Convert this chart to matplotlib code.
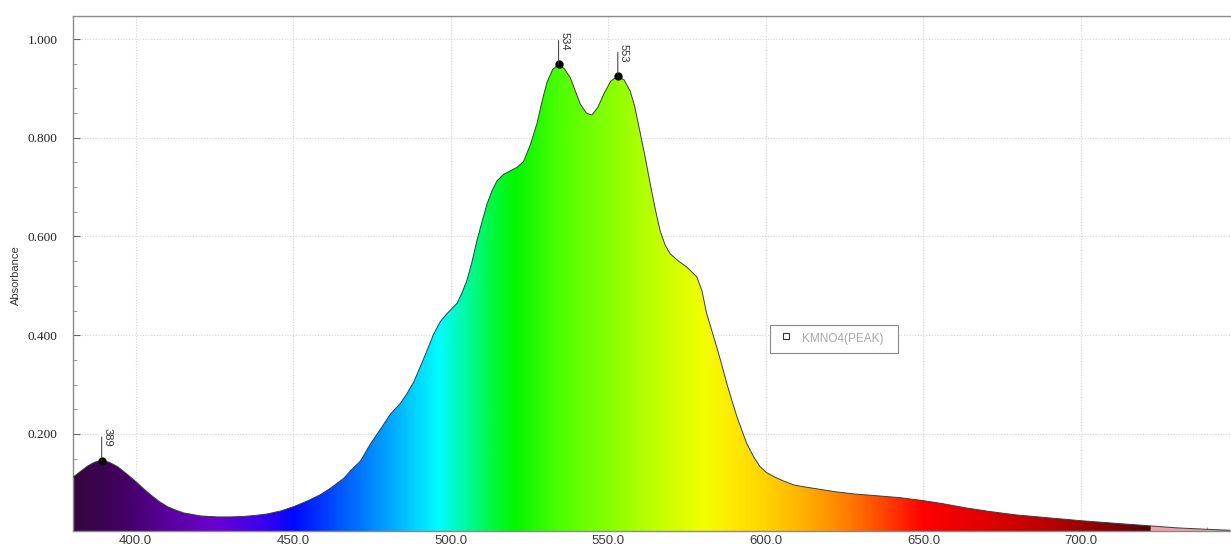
import numpy as np
import matplotlib
matplotlib.use("Agg")
import matplotlib.pyplot as plt
from matplotlib.colors import LinearSegmentedColormap
from matplotlib.patches import Rectangle
from matplotlib.lines import Line2D

# ---------------- data ----------------
wavelength = [380.0, 384.7, 387.0, 389.2, 391.5, 394.2, 396.8, 399.4, 402.0, 404.7,
              407.3, 410.0, 412.6, 415.3, 420.6, 425.9, 430.0, 434.3, 438.0, 441.7,
              446.0, 450.2, 454.4, 458.6, 462.0, 466.0, 468.1, 471.3, 474.5, 477.7,
              480.8, 484.0, 486.1, 488.2, 490.3, 492.5, 494.6, 496.7, 498.8, 500.5,
              502.0, 503.5, 505.1, 506.7, 508.3, 509.9, 511.5, 513.1, 514.7, 516.8,
              518.9, 521.0, 523.1, 525.2, 527.3, 529.0, 530.5, 532.3, 534.2, 536.0,
              537.9, 539.5, 541.1, 543.0, 544.8, 546.7, 548.5, 550.8, 553.0, 555.0,
              556.9, 558.3, 560.1, 561.7, 563.3, 564.9, 566.4, 568.0, 569.6, 572.3,
              574.9, 578.1, 579.7, 581.2, 582.8, 584.4, 586.0, 587.6, 589.2, 590.8,
              592.4, 593.9, 596.0, 598.1, 600.2, 602.4, 605.5, 608.7, 612.0, 616.1,
              622.0, 628.8, 635.0, 642.5, 649.9, 656.0, 663.7, 671.0, 679.5, 690.0,
              700.7, 711.0, 721.8, 730.0, 739.8, 747.2]
absorbance = [0.112, 0.135, 0.143, 0.146, 0.143, 0.134, 0.121, 0.107, 0.092, 0.077,
              0.064, 0.053, 0.046, 0.040, 0.034, 0.032, 0.032, 0.033, 0.035, 0.038,
              0.044, 0.053, 0.064, 0.077, 0.091, 0.110, 0.125, 0.145, 0.180, 0.210,
              0.240, 0.262, 0.282, 0.305, 0.336, 0.370, 0.403, 0.428, 0.444, 0.455,
              0.465, 0.485, 0.511, 0.548, 0.592, 0.630, 0.666, 0.693, 0.713, 0.726,
              0.733, 0.740, 0.752, 0.785, 0.828, 0.875, 0.912, 0.938, 0.949, 0.940,
              0.922, 0.895, 0.868, 0.850, 0.846, 0.862, 0.888, 0.915, 0.925, 0.917,
              0.895, 0.865, 0.810, 0.760, 0.706, 0.655, 0.612, 0.583, 0.565, 0.550,
              0.538, 0.518, 0.490, 0.444, 0.410, 0.376, 0.340, 0.302, 0.268, 0.235,
              0.207, 0.181, 0.155, 0.134, 0.122, 0.114, 0.105, 0.097, 0.093, 0.089,
              0.083, 0.078, 0.075, 0.071, 0.065, 0.059, 0.050, 0.043, 0.036, 0.030,
              0.024, 0.019, 0.014, 0.010, 0.007, 0.005]

peak_x = [389.2, 534.2, 553.0]
peak_y = [0.146, 0.949, 0.925]
peak_labels = ["389", "534", "553"]

x_ticks = [400, 450, 500, 550, 600, 650, 700]
x_ticklabels = ["400.0", "450.0", "500.0", "550.0", "600.0", "650.0", "700.0"]
y_ticks = [0.2, 0.4, 0.6, 0.8, 1.0]
y_ticklabels = ["0.200", "0.400", "0.600", "0.800", "1.000"]
legend_label = "KMNO4(PEAK)"

# ---------------- figure ----------------
W, H = 1231, 547
fig = plt.figure(figsize=(W / 100, H / 100), dpi=100)
ax = fig.add_axes([72.7 / W, (H - 531) / H, (W - 72.7) / W, 515 / H])

xmin, xmax = 380.0, 747.6
ymin, ymax = 0.0035, 1.0466
ax.set_xlim(xmin, xmax)
ax.set_ylim(ymin, ymax)

# spectral gradient fill
stops = [
    (380, "#35073f"), (395, "#42005f"), (410, "#5a009e"), (425, "#6c00d0"),
    (440, "#3a00f0"), (450, "#0008ff"), (465, "#0058ff"), (480, "#00a4ff"),
    (490, "#00dcff"), (496, "#00fcff"), (505, "#00f8a0"), (513, "#00f840"),
    (520, "#00f800"), (535, "#50ff00"), (550, "#86ff00"), (565, "#c0ff00"),
    (580, "#f2ff00"), (590, "#ffe800"), (600, "#ffd200"), (612, "#ffb000"),
    (625, "#ff8000"), (638, "#ff4000"), (650, "#ff0000"), (670, "#e00000"),
    (690, "#b80000"), (705, "#900000"), (715, "#700008"), (722, "#50000a"),
    (722.4, "#f2a0a4"), (740, "#eea4aa"), (747.6, "#b8a4aa"),
]
pos = [(s[0] - xmin) / (xmax - xmin) for s in stops]
cmap = LinearSegmentedColormap.from_list("spec", list(zip(pos, [s[1] for s in stops])), N=1024)
grad = np.linspace(0, 1, 1200)[None, :]
im = ax.imshow(grad, cmap=cmap, extent=[xmin, xmax, ymin, ymax], aspect="auto",
               origin="lower", zorder=2, interpolation="bilinear")
poly = ax.fill_between(wavelength, absorbance, ymin, facecolor="none", edgecolor="none", zorder=1)
clip = poly.get_paths()[0]
im.set_clip_path(clip, transform=ax.transData)
ax.plot(wavelength, absorbance, color="#3c3c3c", lw=0.7, zorder=3)

# grid
ax.set_xticks(x_ticks)
ax.set_xticklabels(x_ticklabels)
ax.set_yticks(y_ticks)
ax.set_yticklabels(y_ticklabels)
ax.set_xticks(np.arange(390, 747, 10), minor=True)
ax.set_yticks(np.arange(0.05, 1.04, 0.05), minor=True)
ax.grid(True, which="major", color="#d4d4d4", linestyle=(0, (1, 1.5)), lw=0.8, zorder=0)
ax.set_axisbelow(True)

for lbl in ax.get_xticklabels():
    lbl.set_fontfamily("Liberation Sans")
    lbl.set_fontsize(9.5)
    lbl.set_color("#3a3a3a")
for lbl in ax.get_yticklabels():
    lbl.set_fontfamily("Liberation Serif")
    lbl.set_fontsize(9.5)
    lbl.set_color("#202020")

ax.tick_params(axis="x", which="major", direction="in", length=5, width=0.8, color="#666666", pad=3, top=False)
ax.tick_params(axis="x", which="minor", direction="in", length=3, width=0.6, color="#888888", top=False)
ax.tick_params(axis="y", which="major", direction="in", length=5, width=0.8, color="#666666", pad=11)
ax.tick_params(axis="y", which="minor", direction="in", length=3, width=0.6, color="#888888")

for side in ["left", "bottom", "top"]:
    ax.spines[side].set_color("#8a8a8a")
    ax.spines[side].set_linewidth(1.0)
ax.spines["right"].set_visible(False)

ax.set_ylabel("Absorbance", fontfamily="Liberation Sans", fontsize=8, color="#333333",
              va="center")
ax.yaxis.set_label_coords((16 - 72.7) / (W - 72.7), (531 - 275) / 515)

# peaks
ax.plot(peak_x, peak_y, "o", color="black", ms=5, zorder=5)
for px, py, lab in zip(peak_x, peak_y, peak_labels):
    ax.annotate("", xy=(px, py), xytext=(0, 17), textcoords="offset points",
                arrowprops=dict(arrowstyle="-", color="#333333", lw=0.7, shrinkA=0, shrinkB=0), zorder=5)
    ax.annotate(lab, xy=(px, py), xytext=(0.5, 10), textcoords="offset points",
                rotation=-90, ha="left", va="bottom", fontsize=8,
                fontfamily="Liberation Sans", color="#333333", zorder=6)

# legend box
ax.add_patch(Rectangle((0.602, 0.3456), 0.1105, 0.0544, transform=ax.transAxes,
                       facecolor="white", edgecolor="#888888", lw=0.8, zorder=7))
ax.add_line(Line2D([0.6158], [0.3785], transform=ax.transAxes, marker="s", ms=5,
                   markerfacecolor="white", markeredgecolor="#333333", mew=0.8, ls="none", zorder=8))
ax.text(0.6298, 0.3728, legend_label, transform=ax.transAxes, fontsize=8.5,
        fontfamily="Liberation Sans", color="#a8a8a8", va="center", ha="left", zorder=8)

fig.savefig("out.png", dpi=100)
